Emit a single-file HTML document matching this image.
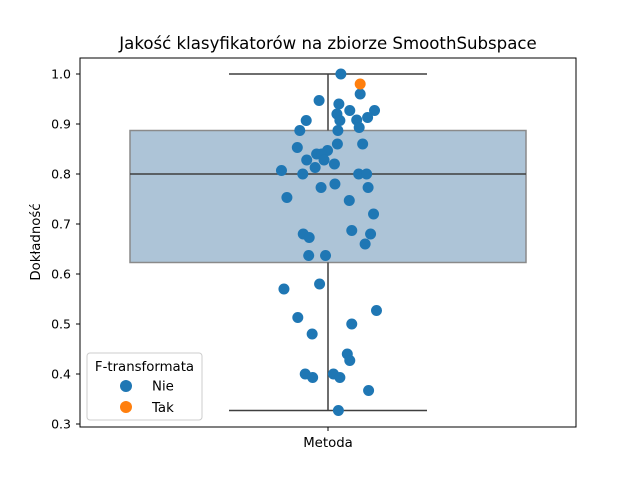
<!DOCTYPE html>
<html><head><meta charset="utf-8"><style>
body{margin:0;background:#fff}
svg text{font-family:"DejaVu Sans","Liberation Sans",sans-serif;fill:#000}
</style></head><body>
<svg id="chart" width="640" height="480" viewBox="0 0 640 480" xmlns="http://www.w3.org/2000/svg">
<rect width="640" height="480" fill="#fff"/>
<text x="328" y="49" font-size="16.6" text-anchor="middle">Jakość klasyfikatorów na zbiorze SmoothSubspace</text>
<g id="yticks"></g>
<text transform="translate(40,242) rotate(-90)" font-size="13.3" text-anchor="middle">Dokładność</text>
<g id="box"></g>
<g id="pts"></g>
<rect x="80" y="58" width="496" height="369" fill="none" stroke="#000" stroke-width="1"/>
<line x1="328" y1="427" x2="328" y2="431" stroke="#000"/>
<text x="328" y="447" font-size="13.3" text-anchor="middle">Metoda</text>
<g>
<rect x="87" y="353" width="115" height="67" rx="3" fill="#fff" fill-opacity="0.8" stroke="#ccc"/>
<text x="144.5" y="371" font-size="13.3" text-anchor="middle">F-transformata</text>
<circle cx="126" cy="386" r="6" fill="#1f77b4"/>
<text x="152" y="390.5" font-size="13.3">Nie</text>
<circle cx="126" cy="407" r="6" fill="#ff7f0e"/>
<text x="152" y="412" font-size="13.3">Tak</text>
</g>
</svg>
<script>
const yTicks=[0.3,0.4,0.5,0.6,0.7,0.8,0.9,1.0];
const boxStats=[0.327,0.623,0.80,0.887,1.0]; // min,q1,median,q3,max
const valuesNie=[1.0,0.96,0.947,0.94,0.927,0.927,0.92,0.913,0.907,0.908,0.907,0.893,0.887,0.887,0.86,0.86,0.853,0.847,0.84,0.84,0.828,0.828,0.82,0.813,0.807,0.80,0.80,0.80,0.773,0.78,0.773,0.753,0.747,0.72,0.687,0.68,0.68,0.673,0.66,0.637,0.637,0.58,0.57,0.527,0.513,0.50,0.48,0.44,0.427,0.40,0.393,0.40,0.393,0.367,0.327];
const jitterNie=[0.026,0.065,-0.018,0.022,0.044,0.094,0.018,0.080,0.024,0.058,-0.044,0.063,-0.057,0.020,0.070,0.019,-0.062,-0.001,-0.023,-0.013,-0.043,-0.008,0.013,-0.026,-0.094,-0.051,0.062,0.078,-0.014,0.014,0.081,-0.083,0.043,0.092,0.048,0.086,-0.050,-0.038,0.075,-0.039,-0.005,-0.017,-0.089,0.098,-0.061,0.048,-0.032,0.039,0.044,-0.046,-0.031,0.011,0.024,0.082,0.021];
const valuesTak=[0.98];
const jitterTak=[0.065];
const NS="http://www.w3.org/2000/svg";
const y=v=>74+(1.0-v)*500;
const x=c=>328+c*495;
function mk(tag,attrs,parent){const e=document.createElementNS(NS,tag);for(const k in attrs)e.setAttribute(k,attrs[k]);parent.appendChild(e);return e;}
const yt=document.getElementById('yticks');
yTicks.forEach(t=>{
  const l=mk('line',{x1:76,x2:80,y1:y(t),y2:y(t),stroke:'#000'},yt);
  
  
  const tx=mk('text',{x:71,y:y(t)+4.5,'font-size':12.5,'text-anchor':'end'},yt);
  
  
  tx.textContent=t.toFixed(1);
});
const bx=document.getElementById('box');
const b=mk('rect',{x:x(-0.4),y:y(boxStats[3]),width:x(0.4)-x(-0.4),height:y(boxStats[1])-y(boxStats[3]),fill:'#adc4d7',stroke:'#8a8a8a','stroke-width':1.5},bx);


const lines=[[0,boxStats[3],0,boxStats[4],'whisker-upper'],[0,boxStats[1],0,boxStats[0],'whisker-lower'],[-0.2,boxStats[4],0.2,boxStats[4],'cap-upper'],[-0.2,boxStats[0],0.2,boxStats[0],'cap-lower'],[-0.4,boxStats[2],0.4,boxStats[2],'median-line']];
lines.forEach(L=>{
  const l=mk('line',{x1:x(L[0]),y1:y(L[1]),x2:x(L[2]),y2:y(L[3]),stroke:'#3f3f3f','stroke-width':1.5},bx);
  
  
});
const pg=document.getElementById('pts');
valuesNie.forEach((v,i)=>{
  const c=mk('circle',{cx:x(jitterNie[i]),cy:y(v),r:5.5,fill:'#1f77b4'},pg);
  
  
});
valuesTak.forEach((v,i)=>{
  const c=mk('circle',{cx:x(jitterTak[i]),cy:y(v),r:5.5,fill:'#ff7f0e'},pg);
  
  
});
</script>
</body></html>
